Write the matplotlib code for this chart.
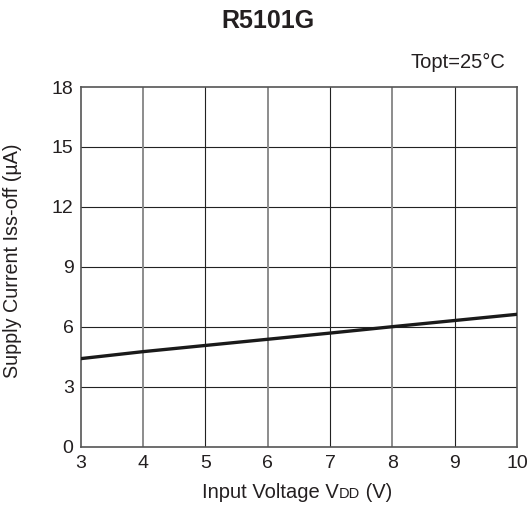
import matplotlib
matplotlib.use("Agg")
import matplotlib.pyplot as plt
from matplotlib.offsetbox import TextArea, HPacker, AnchoredOffsetbox

plt.rcParams['font.family'] = ['Liberation Sans', 'DejaVu Sans']
plt.rcParams['text.color'] = '#231f20'
plt.rcParams['xtick.labelcolor'] = '#231f20'
plt.rcParams['ytick.labelcolor'] = '#231f20'

vdd = [3, 4, 5, 6, 7, 8, 9, 10]
iss_off = [4.4, 4.75, 5.06, 5.37, 5.68, 6.0, 6.31, 6.62]
x_ticks = [3, 4, 5, 6, 7, 8, 9, 10]
y_ticks = [0, 3, 6, 9, 12, 15, 18]

fig = plt.figure(figsize=(5.30, 5.07), dpi=100)
ax = fig.add_axes([0.152, 0.1193, 0.8236, 0.709])

# grid: dark horizontals, vertical lines alternate grey / black
for y in y_ticks[1:-1]:
    ax.axhline(y, color='#222222', lw=0.8, zorder=1)
for x in x_ticks[1:-1]:
    c = '#8c8c8c' if x % 2 == 0 else '#222222'
    w = 1.4 if x % 2 == 0 else 0.8
    ax.axvline(x, color=c, lw=w, zorder=1)

ax.plot(vdd, iss_off, color='#1a1a1a', lw=2.4, zorder=3)

ax.set_xlim(3, 10)
ax.set_ylim(0, 18)
ax.set_xticks(x_ticks)
ax.set_yticks(y_ticks)
ax.tick_params(length=0, labelsize=14)
ax.tick_params(axis='y', pad=5)
ax.tick_params(axis='x', pad=6)
for s in ax.spines.values():
    s.set_color('#555555')
    s.set_linewidth(1.2)

fig.text(0.0236, 0.485, 'Supply Current Iss-off (\u00b5A)', fontsize=14.2,
         rotation=90, ha='center', va='center')

# x label with small-caps "DD"
parts = [TextArea('Input Voltage V', textprops=dict(fontsize=14.5)),
         TextArea('DD', textprops=dict(fontsize=10.5)),
         TextArea(' (V)', textprops=dict(fontsize=14.5))]
box = HPacker(children=parts, align='baseline', pad=0, sep=0)
ab = AnchoredOffsetbox(loc='center', child=box, frameon=False,
                       bbox_to_anchor=(0.5615, 0.029), bbox_transform=fig.transFigure,
                       pad=0, borderpad=0)
fig.add_artist(ab)

fig.text(0.505, 0.944, 'R5101G', fontsize=18, fontweight='bold', ha='center', va='baseline')
fig.text(0.953, 0.865, 'Topt=25\u00b0C', fontsize=14.5, ha='right', va='baseline')

fig.savefig('out.png', dpi=100)
